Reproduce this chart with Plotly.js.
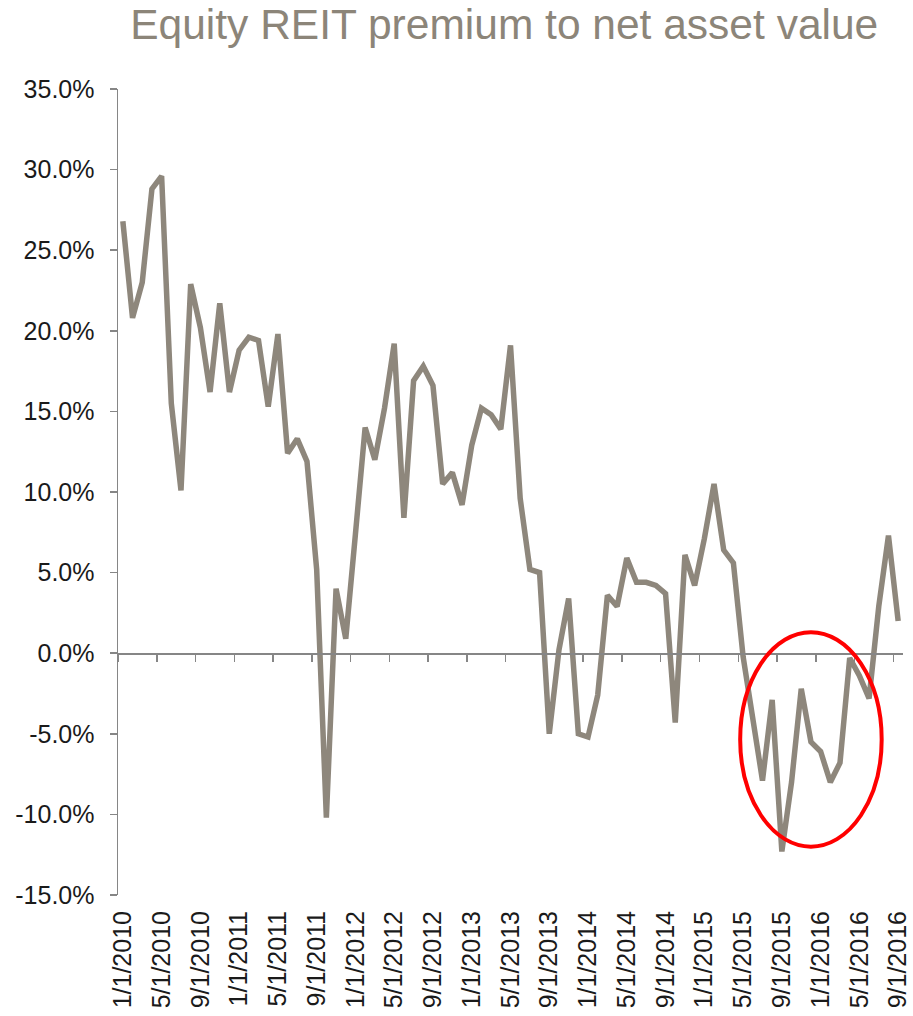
<!DOCTYPE html>
<html>
<head>
<meta charset="utf-8">
<script src="https://cdn.plot.ly/plotly-3.0.1.min.js"></script>
<style>
  html, body { margin: 0; padding: 0; background: #fff; }
  #chart { width: 913px; height: 1016px; }
</style>
</head>
<body>
<div id="chart"></div>
<script>
// Monthly observations, Jan 2010 .. Sep 2016
const years = [2010, 2011, 2012, 2013, 2014, 2015, 2016];
const months = [];
years.forEach(yr => {
  for (let m = 1; m <= 12; m++) {
    if (yr === 2016 && m > 9) break;
    months.push(m + '/1/' + yr);
  }
});

// premium to NAV, in percent
const premium = [
  26.8, 20.8, 23.0, 28.8, 29.6, 15.5, 10.1, 22.9, 20.2, 16.2, 21.7, 16.2,
  18.8, 19.6, 19.4, 15.3, 19.8, 12.4, 13.3, 11.9, 5.2, -10.2, 4.0, 0.9,
  7.4, 14.0, 12.0, 15.2, 19.2, 8.4, 16.9, 17.8, 16.6, 10.5, 11.2, 9.2,
  12.9, 15.2, 14.8, 13.9, 19.1, 9.6, 5.2, 5.0, -5.0, 0.2, 3.4, -5.0,
  -5.2, -2.6, 3.6, 2.9, 5.9, 4.4, 4.4, 4.2, 3.7, -4.3, 6.1, 4.2,
  7.1, 10.5, 6.4, 5.6, -0.2, -4.0, -7.9, -2.9, -12.3, -8.0, -2.2, -5.5,
  -6.1, -8.0, -6.8, -0.3, -1.4, -2.8, 2.9, 7.3, 2.0
];

// every 4th month is labelled
const tickLabels = months.filter((d, i) => i % 4 === 0);

// y axis ticks (plain hyphen for negatives, as in the original)
const yTicks = [-15, -10, -5, 0, 5, 10, 15, 20, 25, 30, 35];
const yTickLabels = ['-15.0%', '-10.0%', '-5.0%', '0.0%', '5.0%', '10.0%',
  '15.0%', '20.0%', '25.0%', '30.0%', '35.0%'];

// highlighted period (red ring), in axis units
const ringX = [63.7, 78.3];
const ringY = [-12.0, 1.3];

const grey = '#868686';
const lineColor = '#8E877C';
const font = 'Arial, "Liberation Sans", sans-serif';

const trace = {
  x: months,
  y: premium,
  type: 'scatter',
  mode: 'lines',
  line: { color: lineColor, width: 5.5 },
  hoverinfo: 'x+y'
};

// dummy trace so the zero-line axis is drawn
const zeroAxisTrace = {
  x: [], y: [], xaxis: 'x2', yaxis: 'y',
  type: 'scatter', mode: 'lines', showlegend: false, hoverinfo: 'skip'
};

const layout = {
  width: 913,
  height: 1016,
  margin: { l: 118, r: 10, t: 89, b: 121 },
  paper_bgcolor: '#fff',
  plot_bgcolor: '#fff',
  showlegend: false,
  title: {
    text: 'Equity REIT premium to net asset value',
    font: { family: font, size: 42.5, color: '#8C8579' },
    x: 0.492, xref: 'paper', xanchor: 'center',
    y: 0.976, yref: 'container', yanchor: 'middle'
  },
  xaxis: {
    type: 'category',
    range: [-0.5, months.length - 0.5],
    tickmode: 'array',
    tickvals: tickLabels,
    ticktext: tickLabels,
    tickangle: -90,
    tickfont: { family: font, size: 25, color: '#1a1a1a' },
    ticks: '',
    ticklabelstandoff: 10,
    showline: false,
    showgrid: false,
    zeroline: false
  },
  xaxis2: {
    type: 'linear',
    overlaying: 'x',
    anchor: 'free',
    position: 0.3,
    range: [-0.5, months.length - 0.5],
    tick0: -0.5,
    dtick: 4,
    ticks: 'outside',
    ticklen: 7,
    tickwidth: 1.5,
    tickcolor: grey,
    showticklabels: false,
    showline: true,
    linecolor: grey,
    linewidth: 1.5,
    showgrid: false,
    zeroline: false
  },
  yaxis: {
    range: [-15, 35],
    tickmode: 'array',
    tickvals: yTicks,
    ticktext: yTickLabels,
    tickfont: { family: font, size: 25, color: '#1a1a1a' },
    ticks: 'outside',
    ticklen: 7,
    tickwidth: 1.5,
    tickcolor: grey,
    ticklabelstandoff: 10,
    showline: true,
    linecolor: grey,
    linewidth: 1.5,
    showgrid: false,
    zeroline: false
  },
  shapes: [{
    type: 'circle',
    xref: 'x2', yref: 'y',
    x0: ringX[0], x1: ringX[1],
    y0: ringY[0], y1: ringY[1],
    line: { color: '#FF0000', width: 4 }
  }]
};

Plotly.newPlot('chart', [trace, zeroAxisTrace], layout, { displayModeBar: false, staticPlot: true });
</script>
</body>
</html>
